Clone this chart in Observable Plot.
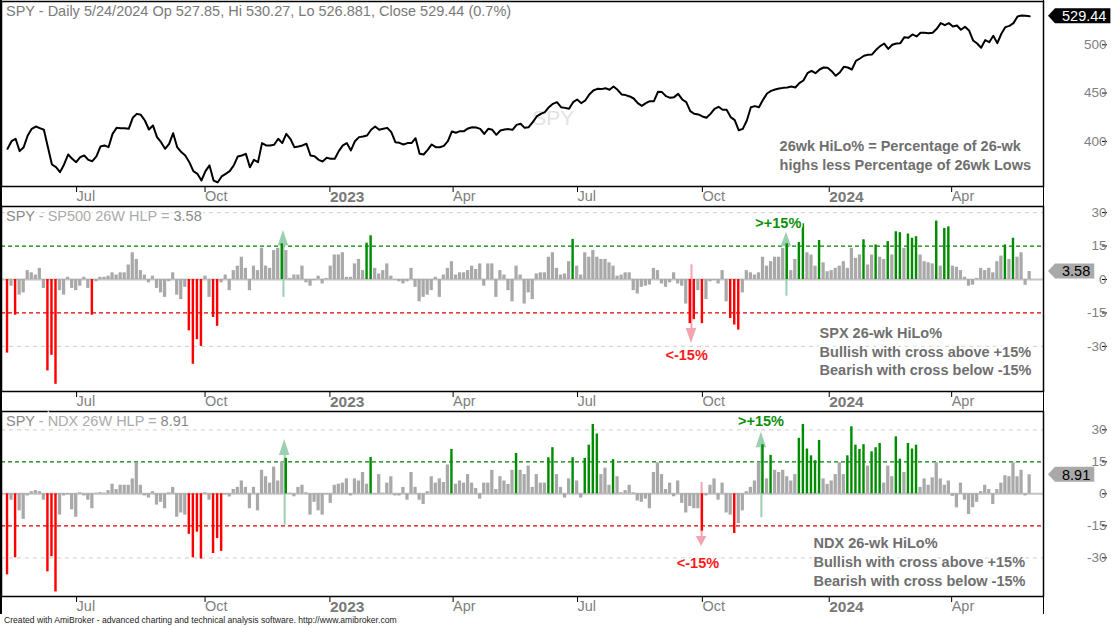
<!DOCTYPE html>
<html>
<head>
<meta charset="utf-8">
<script src="https://cdn.jsdelivr.net/npm/d3@7"></script>
<script src="https://cdn.jsdelivr.net/npm/@observablehq/plot@0.6"></script>
<style>
  html, body { margin: 0; padding: 0; background: #fff; }
  #wrap { position: relative; width: 1113px; height: 627px; overflow: hidden; background: #fff;
          font-family: "Liberation Sans", Arial, sans-serif; }
  .panel { position: absolute; left: 0; }
  .vline { position: absolute; top: 0; height: 614px; width: 1.5px; background: #000; }
  #footer { position: absolute; left: 4px; top: 615px; font-size: 8.6px; color: #222; white-space: nowrap; }
</style>
</head>
<body>
<div id="wrap">
  <div id="p1" class="panel" style="top:0px"></div>
  <div id="p2" class="panel" style="top:205px"></div>
  <div id="p3" class="panel" style="top:410px"></div>
  <div class="vline" style="left:0px"></div>
  <div class="vline" style="left:1042.5px"></div>
  <div id="footer">Created with AmiBroker - advanced charting and technical analysis software. http://www.amibroker.com</div>
</div>
<script>
// ---------------- DATA (one value per two trading sessions, May 2022 - May 24 2024) ----------------
const spyClose = [
392.3,400.2,402.7,389.9,394.0,406.1,413.0,415.4,413.7,412.0,
394.0,376.1,373.3,368.2,376.1,386.4,382.0,378.5,383.7,385.4,
380.9,379.5,384.4,394.7,395.8,394.0,407.8,414.0,413.7,413.7,
413.0,424.4,428.5,427.5,421.6,412.3,416.5,404.4,399.2,392.3,
397.5,408.5,394.0,388.9,385.4,378.5,369.2,366.4,359.5,369.2,
375.1,359.5,357.5,363.7,366.4,369.2,375.1,384.4,385.4,387.1,
373.3,380.9,378.5,398.2,395.8,395.8,396.5,402.7,398.2,407.8,
402.7,394.0,394.7,395.8,397.5,385.4,384.7,380.9,379.2,383.0,
382.0,382.0,389.9,395.8,398.2,390.6,400.2,404.4,405.1,406.1,
412.0,415.4,412.0,413.0,414.0,409.6,399.2,398.5,396.8,398.2,
398.2,403.3,387.1,386.4,391.3,396.8,394.0,394.0,395.4,400.2,
410.3,408.9,410.6,410.6,413.4,414.7,414.4,413.0,407.8,413.0,
412.0,406.8,411.3,412.3,412.7,412.0,417.1,418.2,414.0,414.7,
419.9,425.8,428.5,430.3,435.4,438.9,440.6,435.4,434.7,433.7,
440.6,443.4,439.6,442.3,448.6,452.7,454.4,454.1,455.1,453.4,
456.8,453.4,448.6,447.9,446.5,444.4,439.6,436.8,439.6,441.6,
441.6,451.3,451.0,446.8,445.1,445.8,449.2,443.4,440.6,431.3,
428.5,427.9,425.8,424.4,428.5,433.7,435.8,432.7,432.7,425.1,
422.0,411.5,413.0,421.6,435.4,436.5,435.4,443.0,449.6,452.3,
453.7,454.8,455.4,455.8,456.8,455.8,460.3,463.0,470.6,473.0,
470.6,474.4,476.5,476.2,472.7,467.9,471.3,477.2,476.5,474.4,
483.4,485.8,488.6,489.6,490.0,494.8,498.6,501.3,495.8,500.0,
501.3,501.7,507.9,507.2,510.7,508.6,512.4,512.4,512.0,512.4,
516.5,522.4,520.3,522.4,519.0,520.0,515.5,518.6,514.8,504.5,
501.3,496.9,504.8,502.7,509.3,501.7,511.4,518.3,519.6,522.4,
529.3,530.3,530.0,529.44
];
const spxHiLo = [
-33,-3,-16,-7,-6,4,3,2,5,-4,
-41,-34,-47,-5,-7,1,-4,-5,-3,1,
-4,-16,-1,1,1,1.5,3,2,3,3,
6.5,12,9,4,2,-1.5,1.5,-4,-6,-8,
-1,3,-7,-9,-3.5,-23,-38,-27,-30,1.5,
-8,-17,-21,-1.5,2,-5,4,6,10,5,
-5,6,4,14,6,5,13,14,16,13,
0.5,2,2,6,-1.5,-3,-0.5,1.5,-2,0.5,
6,11,11,12,1,1,7,9,4,16.3,
19.6,5,2.5,4,7,1.5,-0.3,-1,-2,-1,
5,-3.5,-10,-8,-7,-5,1,-8,2,5,
8,2,3,3,4,6,4.5,7,-3,7,
7,-8,4,2,-5,-10,6,2,-11,-6,
-9,2.5,3,3,10,12,5,2,2.5,8,
18,6,2,12,10,13,10,9,9,7.5,
6,1.5,2,3,3,-5,-6.5,-3.5,-3,-2.5,
5,4,-2,-3.5,-1.5,3,-2,-3,-11,-19.8,
-18,-5,-19.8,-9,-1,-0.5,-2,4,-10,-17.5,
-20.4,-22.7,-6,4,3,2,3,10,6,8,
10,10,14,16,4,9,16.6,25,12,11,
6,17.5,7.5,3.5,4,5,6,8,5,14,
9.5,11,17.8,6.5,11,15.5,10,9,17,11,
21.4,21,14,20.4,18.5,19.2,11,8,7.5,7,
26.2,6,22.9,23.6,6,5.5,4,1,-3,-2.5,
0.5,5,4,5,3,8,10.5,15.5,9,18.5,
10,12,-2.6,3.58
];
const ndxHiLo = [
-38,-3,-30,-8,-12,-1,1,1.5,1,-3,
-36.6,-29.5,-46,-10,-1,-0.5,-7.5,-11,0.5,-1,
-3,-7,0.3,0.5,0.3,1.5,4.5,2,4,4,
4,7,14.5,4,-1,-2,1,-5.3,-4,-7,
0.5,3,-11,-9,-10,-19,-30,-18,-30.6,0.5,
-3,-28,-21,-27,-0.5,-1.5,2,3,6,3,
-7,3,-8,11,8,5,12.5,6,15,16.6,
0.3,-1.4,3,4,0.5,-10,-4,-8,-10,-0.5,
-4.5,4,4.5,5,7,-1,7,6,10,4.5,
17,-0.3,9,0.3,5,8,-1,-1,3,-3,
10,3,-3,-5,1,8,5,7,5.3,13.5,
20.8,4.5,6,5,9,5,2.5,-2.5,5,5,
11,2,8,6,4.4,11,18.9,11,9,13,
3,9,5,5,16.9,21.6,9,3,-2,7,
16.9,6,-2,16.6,22.8,32.5,28,9,12,4,
16,8,0.5,1.5,4,0.5,-3.4,-4,-2.5,-7,
10,14.5,9,2,5,-1.4,6,-4.5,-9,-6,
-7,-7,-17.5,-1,4,7,-3,5,-9,-10,
-18.6,-14,-8,1,3,6,14.5,23,7,18,
11,10,11,8,6,9,26,32.5,21,17.8,
15.5,25,7,4.4,6,9,14.5,9,17.8,31.4,
22.8,20.8,23,13,19.7,21.6,23.6,5,13,8,
26.7,16.2,10,23.6,21,22.8,3,7,4,7.5,
14.5,7,4,6,-1.2,-6.6,5,-3,-9.7,-6.5,
-4,1,4,2,-5,2,5,8.5,8,14.5,
8,11,-1,8.91
];
// x-axis ticks (position in the same two-session index units) and labels
const tickLabels = ["Jul", "Oct", "2023", "Apr", "Jul", "Oct", "2024", "Apr"];
const tickPositions = [17.1, 48.9, 79.8, 110.3, 141.1, 172.0, 203.4, 233.7];
const yearLabels = ["2023", "2024"];
const priceTicks = [400, 450, 500];
const hiloTicks = [-30, -15, 0, 15, 30];
// signal arrows: index position, shaft start, head base, head tip
const spxArrows = [
  {x: 68.8, from: -8, base: 15, tip: 22, dir: "up"},
  {x: 193.3, from: -7.5, base: 14.7, tip: 21.2, dir: "up"},
  {x: 169.8, from: 6.6, base: -22, tip: -28.7, dir: "down"}
];
const ndxArrows = [
  {x: 69.1, from: -14.7, base: 18, tip: 25.5, dir: "up"},
  {x: 172.3, from: 5.3, base: -20, tip: -24.7, dir: "down"},
  {x: 187.1, from: -11.2, base: 21.6, tip: 28.8, dir: "up"}
];

// ---------------- LAYOUT ----------------
const W = 1113, PH = 205, ML = 1, MR = 70, MT = 1, MB = 19;
const xDomain = [-0.99, 256.93];
const FONT = '"Liberation Sans", Arial, sans-serif';
const GRAY = "#a9a9a9", GREEN = "#008c00", RED = "#ff0000";
const barColor = v => v > 15 ? GREEN : v < -15 ? RED : GRAY;

function xAxisMarks() {
  const fmt = p => tickLabels[tickPositions.indexOf(p)];
  const monthPos = tickPositions.filter((p, k) => !yearLabels.includes(tickLabels[k]));
  const yearPos = tickPositions.filter((p, k) => yearLabels.includes(tickLabels[k]));
  return [
    Plot.axisX({ticks: monthPos, tickFormat: fmt, tickSize: 6, tickPadding: -2, textAnchor: "start", dx: 2,
                fontSize: 14.5, fill: "#808080", stroke: "#000", label: null}),
    Plot.axisX({ticks: yearPos, tickFormat: fmt, tickSize: 6, tickPadding: -2, textAnchor: "start", dx: 2,
                fontSize: 15.5, fontWeight: "bold", fill: "#787878", stroke: "#000", label: null})
  ];
}
function yAxisMark(ticks) {
  return Plot.axisY({anchor: "right", ticks, tickSize: 5, tickPadding: 0, textAnchor: "end", dx: 58,
                     fontSize: 13.5, fill: "#808080", stroke: "#000", label: null, tickFormat: d => String(d)});
}
function valueTag(svg, yScale, value, text, bg, fg) {
  const y = yScale.apply(value);
  const g = d3.select(svg).append("g");
  const t = g.append("text").attr("x", 1062).attr("y", y).attr("dy", "0.36em")
    .attr("text-anchor", "start")
    .attr("fill", fg).attr("font-size", 14.5).attr("font-family", FONT).text(text);
  const w = t.node().getComputedTextLength();
  const h = 7.5;
  g.insert("path", "text")
    .attr("d", `M1048,${y}L1055,${y - h}H${1062 + w + 4}V${y + h}H1055Z`)
    .attr("fill", bg);
}
function addTitle(svg, parts, y) {
  const t = d3.select(svg).append("text").attr("x", 6).attr("y", y)
    .attr("text-anchor", "start")
    .attr("font-size", 14.5).attr("font-family", FONT)
    .attr("stroke", "#fff").attr("stroke-width", 4).attr("paint-order", "stroke");
  parts.forEach(([s, c]) => t.append("tspan").attr("fill", c).text(s));
}

// ---------------- TOP PANEL: SPY price ----------------
const priceData = spyClose.map((v, i) => ({i, v}));
const p1 = Plot.plot({
  width: W, height: PH, marginLeft: ML, marginRight: MR, marginTop: MT, marginBottom: MB,
  style: {fontFamily: FONT, background: "#fff", overflow: "visible"},
  x: {domain: xDomain},
  y: {domain: [353.3, 544.8]},
  marks: [
    Plot.text(["SPY"], {x: 135.6, y: 423.7, fontSize: 21, fill: "#e3e3e3"}),
    Plot.line(priceData, {x: d => d.i + 0.5, y: "v", stroke: "#000", strokeWidth: 2}),
    Plot.text(["26wk HiLo% = Percentage of 26-wk\nhighs less Percentage of 26wk Lows"],
      {x: 191.6, y: 386.7, textAnchor: "start", lineAnchor: "middle", lineHeight: 1.345,
       fontSize: 14.5, fontWeight: "bold", fill: "#6f6f6f"}),
    Plot.frame({stroke: "#000", strokeWidth: 1.5}),
    ...xAxisMarks(),
    yAxisMark(priceTicks)
  ]
});
document.getElementById("p1").appendChild(p1);
addTitle(p1, [["SPY - Daily 5/24/2024 Op 527.85, Hi 530.27, Lo 526.881, Close 529.44 (0.7%)", "#7a7a7a"]], 16);
valueTag(p1, p1.scale("y"), spyClose[spyClose.length - 1], "529.44", "#000", "#fff");

// ---------------- HiLo PANELS ----------------
function hiloPanel(values, yDomain, arrows, note, noteY, noteX, upLbl, dnLbl) {
  const data = values.map((v, i) => ({i, v}));
  const grayBars = data.filter(d => barColor(d.v) === GRAY);
  const colorBars = data.filter(d => barColor(d.v) !== GRAY);
  const heads = [];
  arrows.forEach((a, k) => {
    heads.push({id: k, dir: a.dir, x: a.x - 1.3, y1: a.base, y2: a.base});
    heads.push({id: k, dir: a.dir, x: a.x, y1: a.base, y2: a.tip});
    heads.push({id: k, dir: a.dir, x: a.x + 1.3, y1: a.base, y2: a.base});
  });
  const arrowColor = dir => dir === "up" ? "#9ccfb2" : "#f4a3b0";
  return Plot.plot({
    width: W, height: PH, marginLeft: ML, marginRight: MR, marginTop: MT, marginBottom: MB,
    style: {fontFamily: FONT, background: "#fff", overflow: "visible"},
    x: {domain: xDomain},
    y: {domain: yDomain},
    marks: [
      Plot.ruleY([30, -30], {stroke: "#d6d6d6", strokeDasharray: "4,4", strokeWidth: 1.2}),
      Plot.ruleY([15], {stroke: "#008000", strokeDasharray: "4,3", strokeWidth: 1.2}),
      Plot.ruleY([-15], {stroke: "#e00000", strokeDasharray: "4,3", strokeWidth: 1.2}),
      Plot.ruleY([0], {stroke: "#c4c4c4", strokeWidth: 2}),
      Plot.rect(grayBars, {x1: "i", x2: d => d.i + 1, y1: 0, y2: "v", fill: GRAY, insetLeft: 0.4, insetRight: 0.4}),
      Plot.ruleX(arrows, {x: "x", y1: "from", y2: "base", stroke: d => arrowColor(d.dir), strokeWidth: 2}),
      Plot.areaY(heads, {x: "x", y1: "y1", y2: "y2", z: "id", fill: d => arrowColor(d.dir)}),
      Plot.rect(colorBars, {x1: d => d.i + 0.2, x2: d => d.i + 0.8, y1: 0, y2: "v", fill: d => barColor(d.v)}),
      Plot.text([">+15%"], {x: upLbl[0], y: upLbl[1], fontSize: 14.5, fontWeight: "bold", fill: "#0a900a",
                            stroke: "#fff", strokeWidth: 3}),
      Plot.text(["<-15%"], {x: dnLbl[0], y: dnLbl[1], fontSize: 14.5, fontWeight: "bold", fill: "#ff1a1a",
                            stroke: "#fff", strokeWidth: 3}),
      Plot.text([note], {x: noteX, y: noteY, textAnchor: "start", lineAnchor: "middle", lineHeight: 1.31,
                         fontSize: 14.5, fontWeight: "bold", fill: "#6f6f6f", stroke: "#fff", strokeWidth: 5}),
      Plot.frame({stroke: "#000", strokeWidth: 1.5}),
      ...xAxisMarks(),
      yAxisMark(hiloTicks)
    ]
  });
}

const p2 = hiloPanel(spxHiLo, [-50.22, 32.74], spxArrows,
  "SPX 26-wk HiLo%\nBullish with cross above +15%\nBearish with cross below -15%", -31.8, 201.5,
  [191.3, 25.1], [168.6, -34.1]);
document.getElementById("p2").appendChild(p2);
addTitle(p2, [["SPY", "#8a8a8a"], [" - SP500 26W HLP = ", "#ababab"], ["3.58", "#8a8a8a"]], 16);
valueTag(p2, p2.scale("y"), spxHiLo[spxHiLo.length - 1], "3.58", "#a9a9a9", "#000");

const p3 = hiloPanel(ndxHiLo, [-48.15, 38.58], ndxArrows,
  "NDX 26-wk HiLo%\nBullish with cross above +15%\nBearish with cross below -15%", -31.3, 200,
  [187.0, 33.9], [171.4, -32.7]);
document.getElementById("p3").appendChild(p3);
addTitle(p3, [["SPY", "#8a8a8a"], [" - NDX 26W HLP = ", "#ababab"], ["8.91", "#8a8a8a"]], 15.5);
valueTag(p3, p3.scale("y"), ndxHiLo[ndxHiLo.length - 1], "8.91", "#a9a9a9", "#000");
</script>
</body>
</html>
